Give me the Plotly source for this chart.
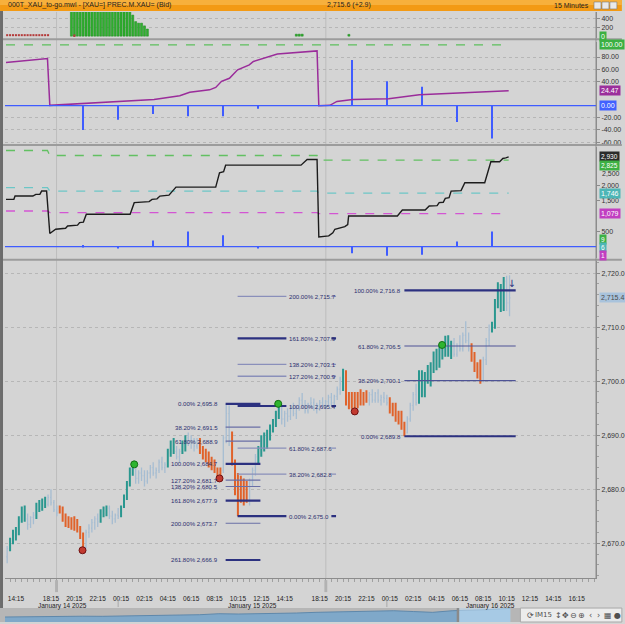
import pandas as pd
import plotly.graph_objects as go

# ---------------- time axis (15-minute bars, 17:00-17:59 closed) ----------------
session_times = pd.date_range("2025-01-14 13:30", "2025-01-16 16:45", freq="15min")
session_times = session_times[session_times.hour != 17]
bar_pos = {t: i - 3 for i, t in enumerate(session_times)}

tick_times = ["2025-01-14 14:15", "2025-01-14 18:15", "2025-01-14 20:15", "2025-01-14 22:15",
              "2025-01-15 00:15", "2025-01-15 02:15", "2025-01-15 04:15", "2025-01-15 06:15",
              "2025-01-15 08:15", "2025-01-15 10:15", "2025-01-15 12:15", "2025-01-15 14:15",
              "2025-01-15 18:15", "2025-01-15 20:15", "2025-01-15 22:15", "2025-01-16 00:15",
              "2025-01-16 02:15", "2025-01-16 04:15", "2025-01-16 06:15", "2025-01-16 08:15",
              "2025-01-16 10:15", "2025-01-16 12:15", "2025-01-16 14:15", "2025-01-16 16:15"]
date_labels = ["January 14 2025", "January 15 2025", "January 16 2025"]
date_label_pos = [15.9, 81.0, 162.6]
session_marks = [13.9, 106.1]
day_marks = [35, 127]

# ---------------- price bars ----------------
bar_kind = ("l" + "tttttt" + "lll" + "tttt" + "llll" + "ooooooooo" + "lllll" + "ttt" + "llll"
            + "ttttt" + "lllllllllll" + "ttt" + "ll" + "tt" + "llll" + "oooooooo" + "lll"
            + "oooooo" + "lll" + "tttttttt" + "lllllllllllllllllllll" + "t" + "oooooooo"
            + "lllllll" + "oooooo" + "llll" + "tttttttttttt" + "llllll" + "oooo" + "lll"
            + "ttttt" + "ll")
bar_open = [
    2667.5, 2669.0, 2670.5, 2671.8, 2672.5, 2674.5, 2676.0, 2674.5, 2673.5, 2674.8,
    2675.2, 2677.0, 2676.5, 2678.0, 2677.2, 2678.5, 2677.5, 2676.2, 2676.0, 2676.5,
    2674.5, 2673.5, 2674.2, 2673.0, 2674.0, 2672.5, 2671.5, 2669.5, 2672.0, 2672.8,
    2673.8, 2674.5, 2674.0, 2676.0, 2675.5, 2676.5, 2675.0, 2674.5, 2675.2, 2675.0,
    2676.8, 2678.5, 2681.0, 2683.5, 2684.0, 2682.0, 2683.0, 2682.5, 2681.5, 2683.0,
    2684.0, 2683.0, 2683.5, 2685.0, 2684.0, 2684.5, 2687.0, 2688.5, 2687.0, 2686.0,
    2687.0, 2688.5, 2689.5, 2689.0, 2688.5, 2688.0, 2689.0, 2687.0, 2686.0, 2686.5,
    2684.5, 2685.0, 2683.5, 2682.5, 2683.5, 2689.5, 2694.0, 2690.0, 2685.0, 2680.0,
    2678.0, 2681.0, 2678.5, 2680.5, 2681.5, 2683.5, 2686.0, 2687.5, 2689.5, 2688.0,
    2690.5, 2691.0, 2692.5, 2694.0, 2695.0, 2693.0, 2694.0, 2693.5, 2695.0, 2694.0,
    2695.0, 2696.5, 2695.5, 2694.5, 2695.8, 2696.0, 2695.0, 2695.5, 2696.0, 2695.5,
    2696.2, 2697.0, 2696.0, 2697.2, 2698.5, 2699.5, 2701.5, 2696.0, 2695.0, 2697.5,
    2695.5, 2697.5, 2696.0, 2697.5, 2696.5, 2697.5, 2696.5, 2697.8, 2696.5, 2697.0,
    2696.8, 2696.0, 2694.5, 2695.5, 2693.0, 2694.0, 2691.5, 2690.5, 2693.0, 2695.5,
    2697.5, 2696.0, 2701.5, 2697.5, 2701.0, 2700.0, 2703.0, 2705.0, 2703.0, 2706.0,
    2705.0, 2708.0, 2705.0, 2707.0, 2705.0, 2706.5, 2706.0, 2708.5, 2707.5, 2706.0,
    2704.0, 2702.0, 2703.0, 2700.0, 2704.0, 2707.5, 2709.5, 2710.5, 2715.0, 2717.5,
    2714.0, 2718.5, 2714.5]
bar_high = [
    2669.5, 2671.0, 2672.5, 2673.0, 2675.0, 2676.8, 2677.0, 2675.5, 2675.0, 2675.8,
    2677.5, 2678.0, 2678.3, 2678.6, 2679.0, 2680.0, 2678.0, 2677.0, 2677.0, 2676.8,
    2675.5, 2675.0, 2674.8, 2675.0, 2674.5, 2673.2, 2672.0, 2672.5, 2673.5, 2674.5,
    2675.0, 2675.5, 2676.3, 2676.8, 2677.0, 2677.0, 2676.0, 2675.5, 2676.5, 2677.0,
    2679.0, 2681.5, 2684.0, 2684.5, 2684.5, 2683.5, 2684.0, 2683.5, 2683.5, 2684.5,
    2685.0, 2684.0, 2685.5, 2686.0, 2685.0, 2687.5, 2689.0, 2689.5, 2688.0, 2687.5,
    2689.0, 2690.0, 2690.5, 2690.0, 2689.5, 2689.5, 2689.5, 2688.0, 2687.5, 2687.0,
    2686.0, 2685.5, 2684.0, 2684.0, 2690.0, 2695.8, 2695.5, 2690.7, 2685.5, 2683.0,
    2682.5, 2682.0, 2681.5, 2682.0, 2684.0, 2686.5, 2688.0, 2690.0, 2690.5, 2691.0,
    2692.0, 2693.0, 2694.5, 2695.5, 2695.8, 2694.5, 2695.0, 2695.5, 2696.0, 2695.5,
    2697.0, 2697.8, 2696.5, 2696.0, 2697.0, 2696.8, 2696.0, 2696.5, 2697.0, 2696.5,
    2697.5, 2697.8, 2697.5, 2699.0, 2700.8, 2702.3, 2702.0, 2698.0, 2698.0, 2698.0,
    2698.0, 2698.5, 2698.0, 2698.3, 2698.0, 2698.5, 2698.0, 2698.5, 2697.5, 2698.0,
    2697.5, 2697.0, 2696.0, 2696.0, 2694.5, 2694.5, 2692.5, 2693.5, 2696.0, 2698.0,
    2699.5, 2702.0, 2702.0, 2701.7, 2703.0, 2703.5, 2705.5, 2706.0, 2706.5, 2706.3,
    2708.4, 2708.5, 2707.5, 2708.0, 2707.0, 2708.5, 2709.0, 2711.1, 2709.0, 2707.0,
    2705.4, 2703.5, 2704.0, 2704.5, 2708.0, 2710.5, 2711.0, 2715.2, 2718.3, 2718.0,
    2719.3, 2719.5, 2719.6]
bar_low = [
    2666.3, 2668.5, 2669.8, 2670.5, 2671.5, 2673.8, 2674.0, 2672.5, 2672.8, 2673.5,
    2674.5, 2675.8, 2676.0, 2676.5, 2676.8, 2677.0, 2675.8, 2675.0, 2675.5, 2674.0,
    2673.0, 2672.8, 2672.5, 2672.3, 2672.0, 2670.8, 2669.0, 2669.0, 2671.0, 2672.0,
    2672.5, 2673.0, 2673.8, 2674.8, 2675.0, 2674.5, 2673.5, 2673.8, 2674.5, 2674.8,
    2676.5, 2678.0, 2680.5, 2682.5, 2681.0, 2681.0, 2681.5, 2680.5, 2681.0, 2682.0,
    2682.5, 2682.0, 2683.0, 2683.5, 2683.0, 2684.0, 2686.0, 2686.5, 2685.5, 2685.0,
    2686.5, 2687.0, 2688.0, 2687.5, 2687.0, 2687.5, 2686.5, 2685.5, 2685.0, 2684.0,
    2683.5, 2683.0, 2682.0, 2682.3, 2683.0, 2688.5, 2688.0, 2684.4, 2678.9, 2675.0,
    2677.5, 2677.0, 2677.5, 2677.0, 2680.5, 2682.5, 2684.5, 2686.0, 2687.0, 2687.5,
    2689.0, 2690.5, 2691.5, 2693.0, 2692.0, 2691.5, 2692.5, 2692.8, 2693.5, 2693.0,
    2694.5, 2695.0, 2694.0, 2694.0, 2695.0, 2694.5, 2694.0, 2694.5, 2695.0, 2694.8,
    2695.5, 2695.5, 2695.5, 2696.5, 2697.5, 2698.2, 2695.5, 2694.8, 2695.0, 2695.0,
    2695.0, 2695.5, 2695.5, 2696.0, 2695.5, 2696.0, 2696.0, 2696.0, 2695.5, 2696.0,
    2695.5, 2694.0, 2693.5, 2692.5, 2692.0, 2691.0, 2689.8, 2690.3, 2692.5, 2694.5,
    2695.5, 2695.8, 2697.0, 2697.0, 2699.5, 2699.0, 2701.5, 2702.0, 2702.5, 2704.0,
    2704.5, 2704.5, 2704.1, 2704.5, 2704.5, 2705.5, 2705.5, 2707.0, 2705.5, 2703.6,
    2701.7, 2700.5, 2699.5, 2699.8, 2703.0, 2706.5, 2709.0, 2709.7, 2713.5, 2712.8,
    2713.0, 2713.0, 2712.0]
bar_close = [
    2669.0, 2670.5, 2671.8, 2672.5, 2674.5, 2676.0, 2674.5, 2673.5, 2674.8, 2675.2,
    2677.0, 2676.5, 2678.0, 2677.2, 2678.5, 2677.5, 2676.2, 2675.6, 2676.5, 2674.5,
    2673.5, 2674.2, 2673.0, 2674.0, 2672.5, 2671.5, 2669.5, 2672.0, 2672.8, 2673.8,
    2674.5, 2674.0, 2676.0, 2675.5, 2676.5, 2675.0, 2674.5, 2675.2, 2675.0, 2676.8,
    2678.5, 2681.0, 2683.5, 2684.0, 2682.0, 2683.0, 2682.5, 2681.5, 2683.0, 2684.0,
    2683.0, 2683.5, 2685.0, 2684.0, 2684.5, 2687.0, 2688.5, 2687.0, 2686.0, 2687.0,
    2688.5, 2689.5, 2689.0, 2688.5, 2688.0, 2689.0, 2687.0, 2686.0, 2686.5, 2684.5,
    2685.0, 2683.5, 2682.5, 2683.5, 2689.5, 2694.0, 2689.0, 2685.0, 2680.0, 2678.0,
    2681.0, 2678.5, 2680.5, 2681.5, 2683.5, 2686.0, 2687.5, 2689.5, 2688.0, 2690.5,
    2691.0, 2692.5, 2694.0, 2695.0, 2693.0, 2694.0, 2693.5, 2695.0, 2694.0, 2695.0,
    2696.5, 2695.5, 2694.5, 2695.8, 2696.0, 2695.0, 2695.5, 2696.0, 2695.5, 2696.2,
    2697.0, 2696.0, 2697.2, 2698.5, 2699.5, 2701.5, 2696.0, 2695.0, 2697.5, 2695.5,
    2697.5, 2696.0, 2697.5, 2696.5, 2697.5, 2696.5, 2697.8, 2696.5, 2697.0, 2696.8,
    2696.0, 2694.5, 2695.5, 2693.0, 2694.0, 2691.5, 2690.5, 2693.0, 2695.5, 2697.5,
    2696.0, 2701.5, 2697.5, 2701.0, 2700.0, 2703.0, 2705.0, 2703.0, 2706.0, 2705.0,
    2708.0, 2705.0, 2707.0, 2705.0, 2706.5, 2706.0, 2708.5, 2707.5, 2706.0, 2704.0,
    2702.0, 2703.0, 2700.0, 2704.0, 2707.5, 2709.5, 2710.5, 2715.0, 2717.5, 2714.0,
    2718.5, 2714.5, 2715.4]
last_price = 2715.4

# signal circles
buy_idx = [40.5, 89.8, 145.9]
buy_val = [2684.6, 2695.8, 2706.7]
sell_idx = [22.8, 69.7, 116.0]
sell_val = [2668.7, 2682.0, 2694.4]
arrow_idx = [169.7]
arrow_val = [2717.8]

# fibonacci groups
fibA_pct = ["0.00%", "38.20%", "61.80%", "100.00%", "127.20%", "138.20%", "161.80%", "200.00%", "261.80%"]
fibA_val = [2695.8, 2691.5, 2688.9, 2684.7, 2681.7, 2680.5, 2677.9, 2673.7, 2666.9]
fibA_thick = [1, 0, 0, 1, 0, 0, 1, 0, 1]
fibA_span = [71.8, 83.7]
fibB_pct = ["200.00%", "161.80%", "138.20%", "127.20%", "100.00%", "61.80%", "38.20%", "0.00%"]
fibB_val = [2715.7, 2707.9, 2703.1, 2700.9, 2695.4, 2687.6, 2682.8, 2675.0]
fibB_thick = [0, 1, 0, 0, 1, 0, 0, 1]
fibB_span = [75.9, 92.6, 108.0, 109.6]
fibC_pct = ["100.00%", "61.80%", "38.20%", "0.00%"]
fibC_val = [2716.8, 2706.5, 2700.1, 2689.8]
fibC_thick = [1, 0, 0, 1]
fibC_span = [133.0, 171.1]

# ---------------- panel 1 : volume-like bars ----------------
volG_idx = [19, 20, 21, 22, 23, 24, 25, 26, 27, 28, 29, 30, 31, 32, 33, 34, 35, 36, 37, 38, 39,
            40, 41, 42, 43, 44, 45, 96, 97, 98, 114]
volG_val = [560, 570, 580, 575, 590, 585, 580, 570, 575, 580, 590, 585, 580, 575, 570, 565, 570,
            575, 560, 555, 550, 470, 325, 290, 290, 230, 160, 45, 45, 45, 40]
volR_idx = [-3, -2, -1, 0, 1, 2, 3, 4, 5, 6, 7, 8, 9, 10, 11, 20]
volR_val = [45, 45, 45, 45, 45, 45, 45, 45, 45, 45, 45, 45, 45, 45, 45, 40]

# ---------------- panel 2 ----------------
osc_idx = [-3.4, 10.8, 11.6, 21.8, 35.4, 47.3, 56.1, 59.5, 66.3, 68.4, 70.4, 73.1, 75.9, 79.9,
           81.3, 89.5, 103.1, 103.7, 107.5, 109.9, 115.3, 127.6, 138.1, 168.7]
osc_val = [71, 77.5, 0.5, 3, 6, 10, 16.4, 22, 26, 30, 40, 45, 59, 67, 72.6, 85, 90, 0, 0.5, 7,
           10, 11.5, 18, 24.47]
spike_idx = [23, 35, 47, 59, 71, 83, 115, 127, 139, 151, 163]
spike2_val = [-40, -23, -13.6, -17.5, -17.5, -5, 75, 40, 31, -27, -54]
spike3_val = [50, -50, 200, 490, 370, -50, -220, -300, -270, 165, 490]
level_ends = [-3.4, 168.7]
level_top = 100

# ---------------- panel 3 ----------------
cum_idx = [-3.4, -0.7, -0.3, 5.8, 6.8, 8.2, 8.8, 10.5, 11.6, 12.6, 13.6, 17.0, 17.7, 21.1, 21.8,
           23.1, 24.1, 39.1, 40.5, 45.6, 46.6, 48.3, 49.3, 52.4, 53.4, 54.1, 54.8, 68.4, 69.7,
           71.1, 71.8, 97.6, 99.7, 103.1, 103.7, 107.1, 108.5, 109.2, 111.9, 112.6, 113.6, 113.9,
           130.6, 132.3, 140.1, 141.5, 144.2, 144.9, 146.3, 147.0, 148.3, 149.0, 152.4, 153.7,
           160.5, 162.6, 165.6, 166.7, 167.7, 168.7]
cum_val = [1544, 1544, 1652, 1652, 1707, 1707, 1815, 1815, 427, 500, 567, 600, 675, 700, 785,
           800, 1055, 1055, 1436, 1470, 1544, 1560, 1652, 1680, 1795, 1860, 1945, 1945, 2414,
           2450, 2661, 2661, 2847, 2847, 316, 349, 450, 567, 620, 653, 720, 1000,
           1000, 1195, 1195, 1326, 1340, 1436, 1450, 1577, 1600, 1815, 1830, 2088,
           2088, 2772, 2772, 2880, 2900, 2930]
band_idx = [-3.4, 10.8, 11.6, 103.1, 103.7, 168.7]
band_hi = [3140, 3140, 2977, 2977, 2825, 2825]
band_mid = [1925, 1925, 1815, 1815, 1746, 1746]
band_lo = [1163, 1163, 1110, 1110, 1079, 1079]

# ---------------- navigator ----------------
nav_level = [5.0, 5.3, 5.5, 5.4, 5.8, 5.7, 6.2, 6.5, 6.8, 7.0, 7.3, 8.3, 8.0, 8.2, 8.6, 9.0,
             9.7, 10.0, 10.3, 10.8, 11.3, 10.5, 9.7, 11.3, 11.8, 12.5, 13.7]

# ======================================================================
BG = "#d4d4d4"
FONT = "Liberation Sans"
NAVY = "#2c3180"


def px(xp):
    return (xp - 5) / 594


def py(yp):
    return (624 - yp) / 624


fig = go.Figure()

bar_x = [bar_pos[t] for t in session_times[:len(bar_open)]]
styles = {"l": ("#a6bdd2", 1.3), "t": ("#2a978f", 2.0), "o": ("#e0622a", 2.0)}
for kind in ["l", "t", "o"]:
    sel = [i for i, k in enumerate(bar_kind) if k == kind]
    col, w = styles[kind]
    fig.add_trace(go.Ohlc(
        x=[bar_x[i] for i in sel], open=[bar_open[i] for i in sel],
        high=[bar_high[i] for i in sel], low=[bar_low[i] for i in sel],
        close=[bar_close[i] for i in sel], tickwidth=0.3,
        increasing=dict(line=dict(color=col, width=w)),
        decreasing=dict(line=dict(color=col, width=w)),
        hoverinfo="skip", xaxis="x", yaxis="y"))


def fib_lines(vals, thick, spans):
    out = {0: ([], []), 1: ([], [])}
    for v, t in zip(vals, thick):
        for k in range(0, len(spans), 2):
            out[t][0].extend([spans[k], spans[k + 1], None])
            out[t][1].extend([v, v, None])
    return out


fib_colors = {"A": ("#6a6fa6", 1.2), "B": ("#8a8fba", 1.4), "C": ("#4e5395", 1.1)}
for key, vals, thick, spans in [("A", fibA_val, fibA_thick, fibA_span),
                                ("B", fibB_val, fibB_thick, fibB_span),
                                ("C", fibC_val, fibC_thick, fibC_span)]:
    segs = fib_lines(vals, thick, spans)
    fig.add_trace(go.Scatter(x=segs[0][0], y=segs[0][1], mode="lines",
                             line=dict(color=fib_colors[key][0], width=fib_colors[key][1]),
                             hoverinfo="skip", xaxis="x", yaxis="y"))
    fig.add_trace(go.Scatter(x=segs[1][0], y=segs[1][1], mode="lines",
                             line=dict(color=NAVY, width=2.2), hoverinfo="skip",
                             xaxis="x", yaxis="y"))

fig.add_trace(go.Scatter(x=buy_idx, y=buy_val, mode="markers",
                         marker=dict(size=7, color="#2fb52f", line=dict(color="#137013", width=1)),
                         hoverinfo="skip", xaxis="x", yaxis="y"))
fig.add_trace(go.Scatter(x=sell_idx, y=sell_val, mode="markers",
                         marker=dict(size=7, color="#c23a30", line=dict(color="#6e1010", width=1)),
                         hoverinfo="skip", xaxis="x", yaxis="y"))
fig.add_trace(go.Scatter(x=arrow_idx, y=arrow_val, mode="text", text=["↓"],
                         textfont=dict(size=10, color=NAVY, family="DejaVu Sans"),
                         hoverinfo="skip", xaxis="x", yaxis="y"))

# panel 3
fig.add_trace(go.Bar(x=spike_idx, y=spike3_val, width=0.45, marker=dict(color="#3f5cff", line=dict(width=0)),
                     hoverinfo="skip", xaxis="x", yaxis="y2"))
for vals, col in [(band_hi, "#62c062"), (band_mid, "#6cc6c6"), (band_lo, "#d355d3")]:
    fig.add_trace(go.Scatter(x=band_idx, y=vals, mode="lines",
                             line=dict(color=col, width=1.3, dash="dash"),
                             hoverinfo="skip", xaxis="x", yaxis="y2"))
fig.add_trace(go.Scatter(x=cum_idx, y=cum_val, mode="lines", line=dict(color="#1c1c1c", width=1.4),
                         hoverinfo="skip", xaxis="x", yaxis="y2"))

# panel 2
fig.add_trace(go.Bar(x=spike_idx, y=spike2_val, width=0.45, marker=dict(color="#3f5cff", line=dict(width=0)),
                     hoverinfo="skip", xaxis="x", yaxis="y3"))
fig.add_trace(go.Scatter(x=level_ends, y=[level_top, level_top], mode="lines",
                         line=dict(color="#5cbf5c", width=1.3, dash="dash"),
                         hoverinfo="skip", xaxis="x", yaxis="y3"))
fig.add_trace(go.Scatter(x=osc_idx, y=osc_val, mode="lines", line=dict(color="#9a2c9a", width=1.5),
                         hoverinfo="skip", xaxis="x", yaxis="y3"))

# panel 1
fig.add_trace(go.Bar(x=volG_idx, y=volG_val, width=0.7,
                     marker=dict(color="#2fb12f", line=dict(color="#1c861c", width=0.5)),
                     hoverinfo="skip", xaxis="x", yaxis="y4"))
fig.add_trace(go.Bar(x=volR_idx, y=volR_val, width=0.7,
                     marker=dict(color="#b43a3a", line=dict(width=0)),
                     hoverinfo="skip", xaxis="x", yaxis="y4"))

# navigator
fig.add_trace(go.Scatter(x=list(range(len(nav_level))), y=nav_level, mode="lines", fill="tozeroy",
                         fillcolor="#7fa8c9", line=dict(color="#5f88ab", width=1),
                         hoverinfo="skip", xaxis="x2", yaxis="y5"))

# ---------------- shapes ----------------
shapes = []
shapes.append(dict(type="rect", xref="paper", yref="paper", x0=px(0), x1=px(625), y0=py(11), y1=py(0),
                   fillcolor="#f39a14", line=dict(width=0), layer="below"))
shapes.append(dict(type="rect", xref="paper", yref="paper", x0=px(0), x1=px(625), y0=py(5), y1=py(0),
                   fillcolor="#f7b03c", line=dict(width=0), layer="below"))
for x0 in [597, 605, 613]:
    shapes.append(dict(type="rect", xref="paper", yref="paper", x0=px(x0), x1=px(x0 + 7),
                       y0=py(9), y1=py(2), fillcolor="#e9e9e9", line=dict(color="#7a7a7a", width=0.6)))
shapes.append(dict(type="rect", xref="paper", yref="paper", x0=px(0), x1=px(3), y0=py(610), y1=py(11),
                   fillcolor="#6c6c6c", line=dict(width=0)))
for m in session_marks:
    shapes.append(dict(type="line", xref="x", yref="paper", x0=m, x1=m, y0=py(580), y1=py(12),
                       line=dict(color="#bdbdbd", width=1), layer="below"))
    shapes.append(dict(type="rect", xref="x", yref="paper", x0=m - 0.5, x1=m + 0.5, y0=py(594), y1=py(582),
                       fillcolor="#b2b2b2", line=dict(width=0)))
for m in day_marks:
    shapes.append(dict(type="line", xref="x", yref="paper", x0=m, x1=m, y0=py(609), y1=py(601),
                       line=dict(color="#a8a8a8", width=1)))
for yy in [39.5, 145.5, 260.5]:
    shapes.append(dict(type="line", xref="paper", yref="paper", x0=px(3), x1=px(625), y0=py(yy), y1=py(yy),
                       line=dict(color="#9c9c9c", width=2)))
shapes.append(dict(type="line", xref="paper", yref="paper", x0=1, x1=1, y0=py(580), y1=py(12),
                   line=dict(color="#8c8c8c", width=1)))
for yr in ["y2", "y3"]:
    shapes.append(dict(type="line", xref="paper", yref=yr, x0=0, x1=1, y0=0, y1=0,
                       line=dict(color="#3f5cff", width=1.2)))
shapes.append(dict(type="rect", xref="paper", yref="paper", x0=px(0), x1=px(523), y0=py(624), y1=py(610),
                   fillcolor="#b6b6b6", line=dict(width=0), layer="below"))
shapes.append(dict(type="rect", xref="paper", yref="paper", x0=px(460), x1=px(513), y0=py(624), y1=py(610),
                   fillcolor="rgba(200,230,252,0.55)", line=dict(width=0)))
shapes.append(dict(type="rect", xref="paper", yref="paper", x0=px(459), x1=px(461.5), y0=py(624), y1=py(610),
                   fillcolor="#8a8a8a", line=dict(width=0)))
shapes.append(dict(type="rect", xref="paper", yref="paper", x0=px(523), x1=px(625), y0=py(624), y1=py(610),
                   fillcolor="#ececec", line=dict(color="#a8a8a8", width=1)))

# ---------------- annotations ----------------
ann = []


def txt(text, x, y, xanchor="left", size=7, color="#1e1e1e", xref="paper", yref="paper", **kw):
    d = dict(text=text, x=x, y=y, xref=xref, yref=yref, xanchor=xanchor, yanchor="middle",
             showarrow=False, font=dict(size=size, color=color, family=FONT))
    d.update(kw)
    ann.append(d)


txt("000T_XAU_to-go.mwl - [XAU=] PREC.M.XAU= (Bid)", px(6), py(5.5))
txt("2,715.6 (+2.9)", px(351), py(5.5), xanchor="center")
txt("15 Minutes", px(594), py(5.5), xanchor="right")


def box(text, yref, yval, bg, fg="white", size=7):
    ann.append(dict(text=text, x=px(602), xref="paper", y=yval, yref=yref, xanchor="left",
                    yanchor="middle", showarrow=False, bgcolor=bg, borderpad=1,
                    font=dict(size=size, color=fg, family=FONT)))


box("0", "y4", 0, "#3cb043")
box("100.00", "y3", 100, "#3cb043")
box("24.47", "y3", 24.47, "#9b2f9b")
box("0.00", "y3", 0, "#4161ff")
box("2,930", "y2", 2930, "#2b2b2b", size=6.5)
box("2,825", "y2", 2660, "#3cb043", size=6.5)
box("1,746", "y2", 1746, "#4db6b6")
box("1,079", "y2", 1079, "#c13fc1")
box("9", "y2", 241, "#3cb043", size=6.5)
box("6", "y2", -20, "#4db6b6", size=6.5)
box("1", "y2", -280, "#c13fc1", size=6.5)
box(f"{last_price:,.1f}", "y", last_price, "#a9c3dc", "#4a4a4a")
# partly hidden axis label under the 2,825 tag
txt("2,500", px(603), 2400, size=7, color="#333333", yref="y2")

LBL = "#2a2e6e"
FS = 6.1
for p, v in zip(fibA_pct, fibA_val):
    txt(f"{p} {v:,.1f}", fibA_span[0] - 1.8, v, xanchor="right", size=FS, color=LBL, xref="x", yref="y")
for p, v in zip(fibB_pct, fibB_val):
    txt(f"{p} {v:,.1f}", fibB_span[1] + 0.2, v, xanchor="left", size=FS, color=LBL, xref="x", yref="y")
for p, v in zip(fibC_pct, fibC_val):
    txt(f"{p} {v:,.1f}", fibC_span[0] - 0.6, v, xanchor="right", size=FS, color=LBL, xref="x", yref="y")

for lab, pos in zip(date_labels, date_label_pos):
    txt(lab, pos, py(607.5), xanchor="center", size=6.5, color="#222", xref="x")

icons = [("⟳", 528), ("IM15", 536), ("↕", 556), ("✥", 563), ("⊖", 571), ("⊕", 579),
         ("‹", 590), ("›", 598), ("▦", 605), ("●", 615)]
for t, x in icons:
    ann.append(dict(text=t, x=px(x), y=py(617), xref="paper", yref="paper", xanchor="left",
                    yanchor="middle", showarrow=False,
                    font=dict(size=7 if t == "IM15" else 8, color="#505050", family="DejaVu Sans")))

# ---------------- layout ----------------
axis_font = dict(size=7, color="#333333", family=FONT)
fig.update_layout(
    width=625, height=624, margin=dict(l=5, r=26, t=0, b=0),
    paper_bgcolor=BG, plot_bgcolor=BG, showlegend=False, barmode="overlay",
    font=dict(family=FONT, size=7, color="#303030"),
    shapes=shapes, annotations=ann,
    xaxis=dict(domain=[0, 1], range=[-3.74, 198.6], anchor="y",
               tickvals=[bar_pos[pd.Timestamp(t)] for t in tick_times],
               ticktext=[t[-5:] for t in tick_times], ticks="", ticklabelstandoff=14,
               tickfont=dict(size=6.5, color="#222", family=FONT),
               showgrid=False, zeroline=False, showline=True, linecolor="#8c8c8c",
               rangeslider=dict(visible=False),
               minor=dict(ticks="outside", ticklen=3, dtick=2, tick0=0, tickcolor="#a0a0a0")),
    xaxis2=dict(domain=[0, px(513)], range=[0, len(nav_level) - 1], anchor="y5", visible=False),
    yaxis=dict(domain=[py(580), py(262)], range=[2663.54, 2722.21], side="right", anchor="x",
               tickvals=[2670, 2680, 2690, 2700, 2710, 2720], tickformat=",.1f",
               ticks="outside", ticklen=3, tickcolor="#8c8c8c", tickfont=axis_font,
               showgrid=True, gridcolor="#b6b6b6", griddash="dot", zeroline=False,
               showline=True, linecolor="#8c8c8c",
               minor=dict(ticks="outside", ticklen=2, dtick=2, tickcolor="#a0a0a0")),
    yaxis2=dict(domain=[py(259), py(147)], range=[-378, 3270], side="right", anchor="x",
                tickvals=[2000, 1500, 500], ticktext=["2,000", "1,500", "500"],
                ticks="outside", ticklen=3, tickcolor="#8c8c8c", tickfont=axis_font,
                showgrid=False, zeroline=False, showline=True, linecolor="#8c8c8c"),
    yaxis3=dict(domain=[py(144), py(42)], range=[-62.3, 104.9], side="right", anchor="x",
                tickvals=[80, 60, 40, -20, -40, -60],
                ticktext=["80.00", "60.00", "40.00", "-20.00", "-40.00", "-60.00"],
                ticks="outside", ticklen=3, tickcolor="#8c8c8c", tickfont=axis_font,
                showgrid=True, gridcolor="#b6b6b6", griddash="dot", zeroline=False,
                showline=True, linecolor="#8c8c8c"),
    yaxis4=dict(domain=[py(38), py(12)], range=[-38, 540], side="right", anchor="x",
                tickvals=[400, 200], ticktext=["400", "200"],
                ticks="outside", ticklen=3, tickcolor="#8c8c8c", tickfont=axis_font,
                showgrid=True, gridcolor="#b6b6b6", griddash="dot", zeroline=False,
                showline=True, linecolor="#8c8c8c"),
    yaxis5=dict(domain=[0, py(610)], range=[0, 14], anchor="x2", visible=False),
)

fig.write_html("out.html")
